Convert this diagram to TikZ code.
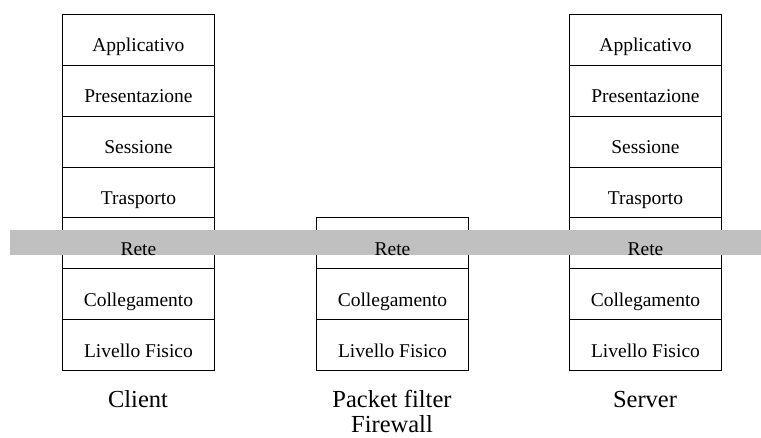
\documentclass[tikz,border=0pt]{standalone}
\usepackage{fontspec}
\setmainfont{Liberation Serif}
\newfontfamily\timesfont{Liberation Serif}
\definecolor{bandgray}{RGB}{192,192,192}
\begin{document}
\begin{tikzpicture}[x=1pt,y=-1pt,
  layerbox/.style={draw=black,line width=0.9pt,minimum width=152pt,minimum height=50.9pt,inner sep=0pt,anchor=north west},
  layertext/.style={anchor=base,font=\timesfont\fontsize{19.5}{22}\selectfont},
  stacklabel/.style={anchor=base,font=\timesfont\fontsize{24.5}{25}\selectfont,align=center}]
\useasboundingbox (0,0) rectangle (761,438);
% client and server stacks
\foreach \n/\k in {app/0,pres/1,sess/2,tras/3,rete/4,coll/5,fis/6}{
  \node[layerbox] (c\n) at (62,14+50.86*\k) {};
  \node[layerbox] (s\n) at (569,14+50.86*\k) {};
}
% firewall stack
\foreach \n/\k in {rete/4,coll/5,fis/6}{
  \node[layerbox] (f\n) at (316,14+50.86*\k) {};
}
% network band across the three stacks
\fill[bandgray] (10,230) rectangle (761,255);
% layer names
\foreach \s in {c,s}{
  \node[layertext] at ([yshift=-38pt]\s app.north) {Applicativo};
  \node[layertext] at ([yshift=-38pt]\s pres.north) {Presentazione};
  \node[layertext] at ([yshift=-38pt]\s sess.north) {Sessione};
  \node[layertext] at ([yshift=-38pt]\s tras.north) {Trasporto};
}
\foreach \s in {c,s,f}{
  \node[layertext] at ([yshift=-38pt]\s rete.north) {Rete};
  \node[layertext] at ([yshift=-38pt]\s coll.north) {Collegamento};
  \node[layertext] at ([yshift=-38pt]\s fis.north) {Livello Fisico};
}
% stack captions
\node[stacklabel] (client) at (138,408) {Client};
\node[stacklabel] (fw) at (392,408) {Packet filter};
\node[stacklabel] (fw2) at (392,433) {Firewall};
\node[stacklabel] (server) at (645,408) {Server};
\end{tikzpicture}
\end{document}
